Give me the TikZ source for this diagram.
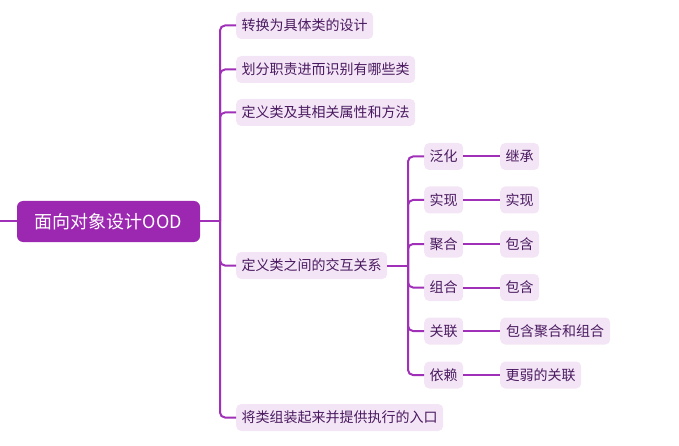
\documentclass[tikz,border=0pt]{standalone}
\usepackage{fontspec}
\setmainfont{Noto Sans CJK SC}
\definecolor{rootfill}{HTML}{9C27B0}
\definecolor{linec}{HTML}{A030B8}
\definecolor{boxfill}{HTML}{F3E5F5}
\definecolor{textc}{HTML}{4A1A60}
\tikzset{
  rootbox/.style={fill=rootfill, text=white, rounded corners=6pt, minimum width=183pt, minimum height=41pt, inner sep=0pt, font=\fontsize{18}{20}\selectfont},
  leafbox/.style={fill=boxfill, text=textc, rounded corners=5pt, minimum height=27pt, inner xsep=5.5pt, inner ysep=0pt, anchor=west, font=\fontsize{14}{16}\selectfont},
  conn/.style={draw=linec, line width=2pt, rounded corners=5pt}
}
\begin{document}
\begin{tikzpicture}[x=1pt,y=-1pt]
\useasboundingbox (0,0) rectangle (679,446);
\node[rootbox] (root) at (108.5,221.5) {面向对象设计OOD};
\coordinate (l0) at (0,221.5);
\coordinate (t1) at (220,221.5);
\node[leafbox] (n1) at (236,25.5) {转换为具体类的设计};
\node[leafbox] (n2) at (236,69.5) {划分职责进而识别有哪些类};
\node[leafbox] (n3) at (236,112.5) {定义类及其相关属性和方法};
\node[leafbox] (n4) at (236,265.5) {定义类之间的交互关系};
\node[leafbox] (n5) at (236,417.5) {将类组装起来并提供执行的入口};
\coordinate (t2) at (408,265.5);
\node[leafbox] (m1) at (424,156.5) {泛化};
\node[leafbox] (m2) at (424,200) {实现};
\node[leafbox] (m3) at (424,244) {聚合};
\node[leafbox] (m4) at (424,287.5) {组合};
\node[leafbox] (m5) at (424,331) {关联};
\node[leafbox] (m6) at (424,375) {依赖};
\node[leafbox] (k1) at (500,156.5) {继承};
\node[leafbox] (k2) at (500,200) {实现};
\node[leafbox] (k3) at (500,244) {包含};
\node[leafbox] (k4) at (500,287.5) {包含};
\node[leafbox, minimum width=110pt] (k5) at (500,331) {包含聚合和组合};
\node[leafbox] (k6) at (500,375) {更弱的关联};
\draw[conn] (l0) -- (root.west);
\draw[conn] (root.east) -- (t1);
\foreach \n in {n1,n2,n3,n4,n5}{
  \draw[conn] (t1) |- (\n.west);
}
\draw[conn] (n4.east) -- (t2);
\foreach \m in {m1,m2,m3,m4,m5,m6}{
  \draw[conn] (t2) |- (\m.west);
}
\foreach \i in {1,...,6}{
  \draw[conn] (m\i.east) -- (k\i.west);
}
\end{tikzpicture}
\end{document}
